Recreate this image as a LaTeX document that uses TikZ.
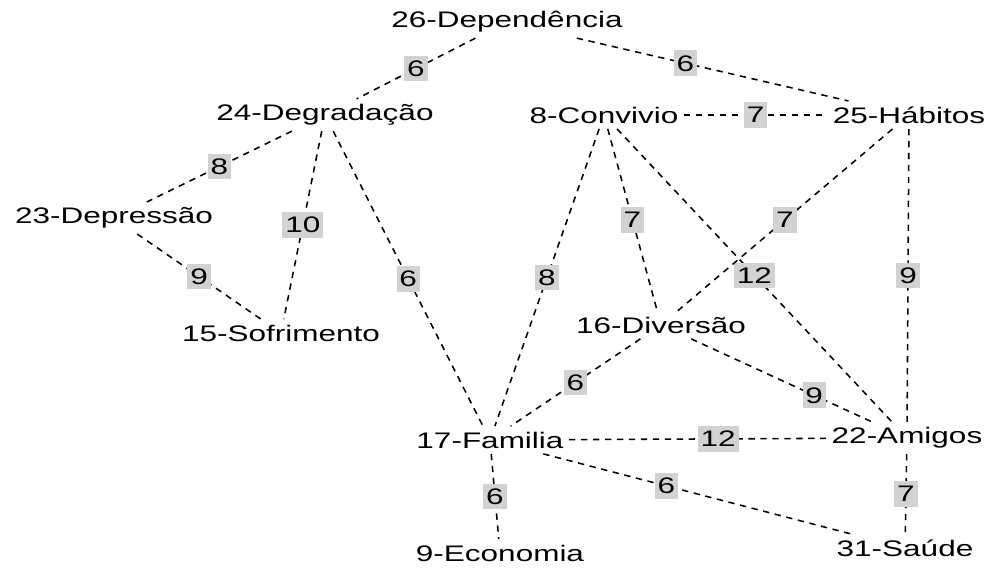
\documentclass[tikz,border=0pt]{standalone}
\usepackage{fontspec}
\newfontfamily\diagfont[FakeStretch=1.4]{Liberation Sans}
\usetikzlibrary{positioning}

\tikzset{
  term/.style={inner sep=2pt, outer sep=2pt, font=\diagfont\fontsize{16}{19}\selectfont},
  link/.style={dashed, dash pattern=on 4.5pt off 4pt, line width=1.1pt},
  wt/.style={fill=gray!35, inner xsep=2pt, inner ysep=3.5pt, font=\diagfont\fontsize{16}{19}\selectfont}
}

\begin{document}
\begin{tikzpicture}[x=0.025cm, y=-0.025cm]
  \useasboundingbox (0,0) rectangle (1001,571);

  \node (dep)  [term] at (507,22)  {26-Dependência};
  \node (deg)  [term] at (325,115) {24-Degradação};
  \node (conv) [term] at (604,115) {8-Convivio};
  \node (hab)  [term] at (909,115) {25-Hábitos};
  \node (depr) [term] at (114,218) {23-Depressão};
  \node (sofr) [term] at (281,333) {15-Sofrimento};
  \node (div)  [term] at (661,325) {16-Diversão};
  \node (fam)  [term] at (490,440) {17-Familia};
  \node (ami)  [term] at (907,438) {22-Amigos};
  \node (eco)  [term] at (500,553) {9-Economia};
  \node (sau)  [term] at (905,548) {31-Saúde};

  \path [link]
  (dep)  edge node [wt] {6} (deg)
  (dep)  edge node [wt, pos=0.4] {6} (hab)
  (conv) edge node [wt] {7} (hab)
  (deg)  edge node [wt] {8} (depr)
  (deg)  edge node [wt] {10} (sofr)
  (depr) edge node [wt] {9} (sofr)
  (deg)  edge node [wt] {6} (fam)
  (conv) edge node [wt] {8} (fam)
  (conv) edge node [wt] {7} (div)
  (conv) edge node [wt] {12} (ami)
  (hab)  edge node [wt] {7} (div)
  (hab)  edge node [wt] {9} (ami)
  (div)  edge node [wt] {6} (fam)
  (div)  edge node [wt, pos=0.68] {9} (ami)
  (fam)  edge node [wt, pos=0.58] {12} (ami)
  (fam)  edge node [wt] {6} (eco)
  (fam)  edge node [wt, pos=0.4] {6} (sau)
  (ami)  edge node [wt] {7} (sau);
\end{tikzpicture}
\end{document}
